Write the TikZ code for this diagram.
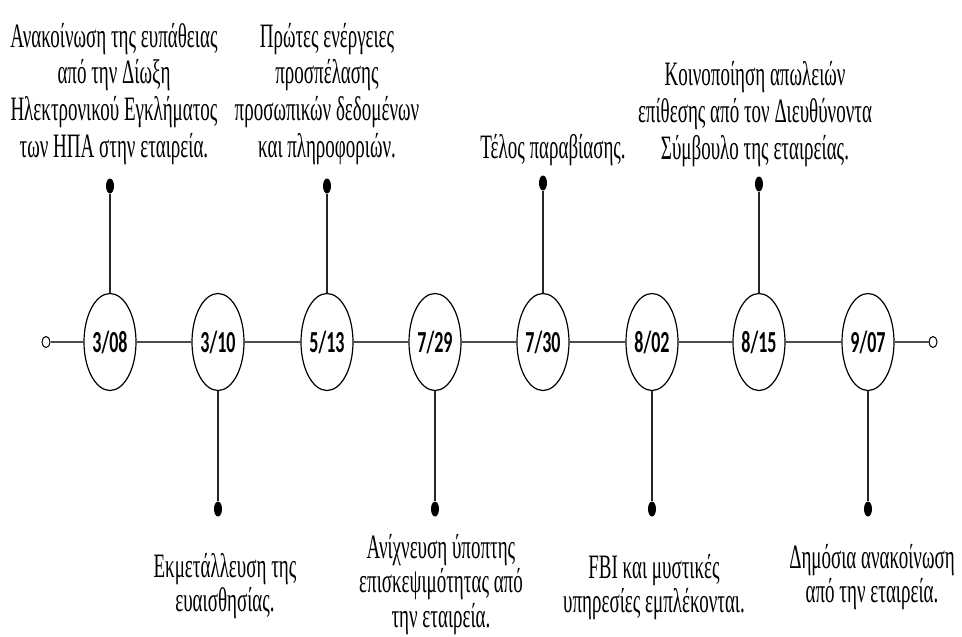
\documentclass[tikz,border=0pt]{standalone}
\usepackage{fontspec}
\usepackage{graphicx}
\setmainfont{Liberation Serif}
\newfontfamily\datefont{Carlito}
\usetikzlibrary{shapes.geometric}

% event captions: tall, narrow serif lettering
\newcommand{\upblock}[1]{\scalebox{1}[1.8]{\fontsize{19}{20.3}\selectfont\begin{tabular}[b]{@{}c@{}}#1\end{tabular}}}
\newcommand{\downblock}[1]{\scalebox{1}[1.8]{\fontsize{19}{19.3}\selectfont\begin{tabular}[t]{@{}c@{}}#1\end{tabular}}}
\newcommand{\datelabel}[1]{\scalebox{1}[1.7]{\datefont\bfseries\fontsize{18}{20}\selectfont #1}}

\tikzset{
  daynode/.style={ellipse, draw=black, fill=white, line width=1.2pt,
    minimum width=52pt, minimum height=97pt, inner sep=0pt},
  tipdot/.style={ellipse, fill=black, minimum width=8pt, minimum height=15pt, inner sep=0pt},
  endpt/.style={ellipse, draw=black, fill=white, line width=1pt,
    minimum width=8pt, minimum height=11pt, inner sep=0pt},
  timeline/.style={line width=2.2pt, draw=black!70},
  stem/.style={line width=1.2pt, draw=black!85},
  eventtext/.style={inner sep=0pt, anchor=base}
}

\begin{document}
\begin{tikzpicture}[x=1pt, y=-1pt]
\useasboundingbox (0,0) rectangle (962,637);

% timeline ends
\node[endpt] (L) at (46,342) {};
\node[endpt] (R) at (933,342) {};

% dates
\node[daynode] (d1) at (110,342) {\datelabel{3/08}};
\node[daynode] (d2) at (218,342) {\datelabel{3/10}};
\node[daynode] (d3) at (327,342) {\datelabel{5/13}};
\node[daynode] (d4) at (435,342) {\datelabel{7/29}};
\node[daynode] (d5) at (543,342) {\datelabel{7/30}};
\node[daynode] (d6) at (652,342) {\datelabel{8/02}};
\node[daynode] (d7) at (759,342) {\datelabel{8/15}};
\node[daynode] (d8) at (868,342) {\datelabel{9/07}};

\draw[timeline] (L) -- (d1);
\draw[timeline] (d1) -- (d2);
\draw[timeline] (d2) -- (d3);
\draw[timeline] (d3) -- (d4);
\draw[timeline] (d4) -- (d5);
\draw[timeline] (d5) -- (d6);
\draw[timeline] (d6) -- (d7);
\draw[timeline] (d7) -- (d8);
\draw[timeline] (d8) -- (R);

% pins
\node[tipdot] (p1) at (110,186) {};
\node[tipdot] (p2) at (218,509) {};
\node[tipdot] (p3) at (327,186) {};
\node[tipdot] (p4) at (435,509) {};
\node[tipdot] (p5) at (543,183) {};
\node[tipdot] (p6) at (652,509) {};
\node[tipdot] (p7) at (759,184) {};
\node[tipdot] (p8) at (868,509) {};

\draw[stem] (d1) -- (p1);
\draw[stem] (d2) -- (p2);
\draw[stem] (d3) -- (p3);
\draw[stem] (d4) -- (p4);
\draw[stem] (d5) -- (p5);
\draw[stem] (d6) -- (p6);
\draw[stem] (d7) -- (p7);
\draw[stem] (d8) -- (p8);

% captions above the line
\node[eventtext] (t1) at (114,157) {\upblock{Ανακοίνωση της ευπάθειας\\από την Δίωξη\\Ηλεκτρονικού Εγκλήματος\\των ΗΠΑ στην εταιρεία.}};
\node[eventtext] (t3) at (327,157) {\upblock{Πρώτες ενέργειες\\προσπέλασης\\προσωπικών δεδομένων\\και πληροφοριών.}};
\node[eventtext] (t5) at (553,158) {\upblock{Τέλος παραβίασης.}};
\node[eventtext] (t7) at (755,159) {\upblock{Κοινοποίηση απωλειών\\επίθεσης από τον Διευθύνοντα\\Σύμβουλο της εταιρείας.}};

% captions below the line
\node[eventtext] (t2) at (225,577) {\downblock{Εκμετάλλευση της\\ευαισθησίας.}};
\node[eventtext] (t4) at (441,558) {\downblock{Ανίχνευση ύποπτης\\επισκεψιμότητας από\\την εταιρεία.}};
\node[eventtext] (t6) at (654,578) {\downblock{FBI και μυστικές\\υπηρεσίες εμπλέκονται.}};
\node[eventtext] (t8) at (872,568) {\downblock{Δημόσια ανακοίνωση\\από την εταιρεία.}};
\end{tikzpicture}
\end{document}
